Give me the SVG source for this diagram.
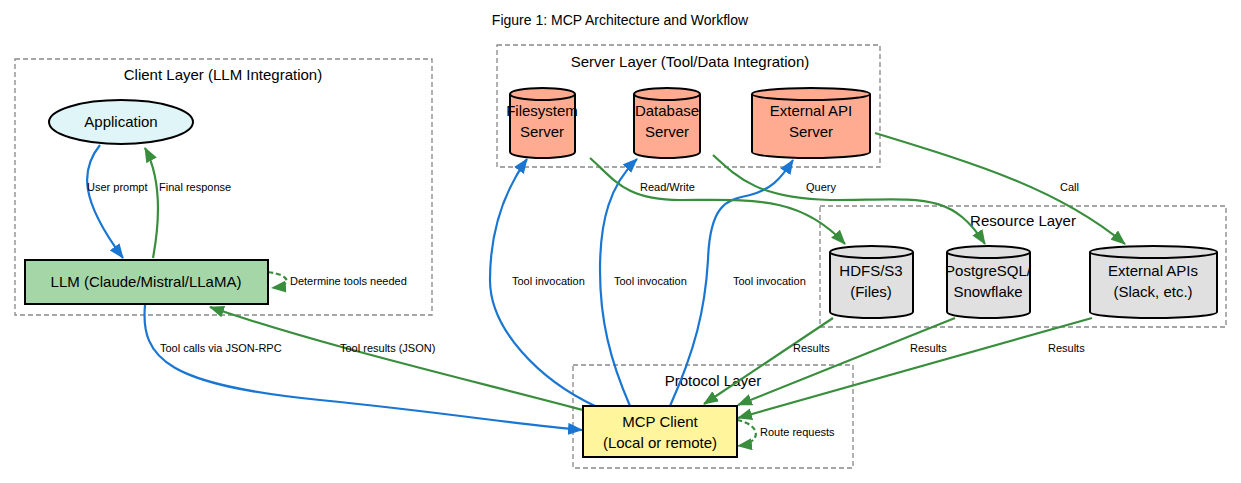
<svg xmlns="http://www.w3.org/2000/svg" width="1241" height="483" viewBox="0 0 1241 483">
<style>
text{font-family:"Liberation Sans",Arial,sans-serif;fill:#000}
.t{font-size:14px;text-anchor:middle}
.n{font-size:15px;text-anchor:middle}
.e{font-size:11px}
.cl{fill:none;stroke:#888;stroke-width:1.3;stroke-dasharray:5,3}
.b{fill:none;stroke:#1976d2;stroke-width:2.2}
.g{fill:none;stroke:#388e3c;stroke-width:2.2}
.d{stroke-dasharray:5,3}
.srv{fill:#ffab91;stroke:#000;stroke-width:2}
.res{fill:#e0e0e0;stroke:#000;stroke-width:2}
</style>
<defs>
<marker id="ab" markerUnits="userSpaceOnUse" markerWidth="16" markerHeight="12" refX="14" refY="6" orient="auto"><path d="M0,0 L15,6 L0,12 Z" fill="#1976d2"/></marker>
<marker id="ag" markerUnits="userSpaceOnUse" markerWidth="16" markerHeight="12" refX="14" refY="6" orient="auto"><path d="M0,0 L15,6 L0,12 Z" fill="#388e3c"/></marker>
</defs>
<rect width="1241" height="483" fill="#fff"/>
<text class="t" x="620" y="25">Figure 1: MCP Architecture and Workflow</text>

<g id="clusters">
<rect class="cl" x="15" y="59" width="417" height="256"/>
<text class="n" x="223" y="80">Client Layer (LLM Integration)</text>
<rect class="cl" x="497" y="45" width="383" height="122"/>
<text class="n" x="690" y="67">Server Layer (Tool/Data Integration)</text>
<rect class="cl" x="820" y="206" width="406" height="121"/>
<text class="n" x="1023" y="226">Resource Layer</text>
<rect class="cl" x="573" y="365" width="280" height="103"/>
<text class="n" x="713" y="386">Protocol Layer</text>
</g>

<g id="connectors">
<path class="b" d="M100,145 C80,170 80,200 123,258" marker-end="url(#ab)"/>
<text class="e" x="87" y="191">User prompt</text>
<path class="g" d="M153,258 C160,220 162,180 145,148" marker-end="url(#ag)"/>
<text class="e" x="159" y="191">Final response</text>
<path class="g d" d="M268,272 C292,275 292,286 272,288" marker-end="url(#ag)"/>
<text class="e" x="290" y="285">Determine tools needed</text>
<path class="b" d="M145,305 C140,360 170,385 320,400 C450,413 520,425 582,430" marker-end="url(#ab)"/>
<text class="e" x="160" y="352">Tool calls via JSON-RPC</text>
<path class="g" d="M583,410 C470,380 320,345 210,307" marker-end="url(#ag)"/>
<text class="e" x="340" y="352">Tool results (JSON)</text>
<path class="b" d="M595,406 C540,380 490,330 490,280 C490,230 505,190 527,159" marker-end="url(#ab)"/>
<text class="e" x="512" y="285">Tool invocation</text>
<path class="b" d="M630,406 C610,360 600,320 600,270 C600,220 610,185 637,159" marker-end="url(#ab)"/>
<text class="e" x="614" y="285">Tool invocation</text>
<path class="b" d="M670,406 C695,350 705,310 708,260 C710,200 730,200 750,195 C770,190 780,180 793,160" marker-end="url(#ab)"/>
<text class="e" x="733" y="285">Tool invocation</text>
<path class="g" d="M590,158 C615,180 625,200 680,200 C750,200 800,195 845,244" marker-end="url(#ag)"/>
<text class="e" x="640" y="191">Read/Write</text>
<path class="g" d="M713,155 C740,180 760,198 830,200 C920,200 950,190 985,244" marker-end="url(#ag)"/>
<text class="e" x="806" y="191">Query</text>
<path class="g" d="M875,133 C980,165 1060,190 1125,244" marker-end="url(#ag)"/>
<text class="e" x="1060" y="191">Call</text>
<path class="g" d="M833,318 L704,404" marker-end="url(#ag)"/>
<text class="e" x="793" y="352">Results</text>
<path class="g" d="M955,318 L738,405" marker-end="url(#ag)"/>
<text class="e" x="910" y="352">Results</text>
<path class="g" d="M1092,318 L738,418" marker-end="url(#ag)"/>
<text class="e" x="1048" y="352">Results</text>
<path class="g d" d="M737,420 C762,425 762,443 738,446" marker-end="url(#ag)"/>
<text class="e" x="760" y="436">Route requests</text>
</g>

<g id="application">
<ellipse cx="121" cy="122" rx="72" ry="22" fill="#dff5f7" stroke="#000" stroke-width="2"/>
<text class="n" x="121" y="127">Application</text>
</g>
<g id="llm">
<rect x="25" y="260" width="243" height="44" fill="#a5d6a7" stroke="#000" stroke-width="2"/>
<text class="n" x="146" y="287">LLM (Claude/Mistral/LLaMA)</text>
</g>
<g id="filesystem-server">
<path class="srv" d="M510,94 L510,152 A32.5,6 0 0 0 575,152 L575,94 A32.5,6 0 0 0 510,94 A32.5,6 0 0 0 575,94"/>
<text class="n" x="542" y="116">Filesystem</text><text class="n" x="542" y="137">Server</text>
</g>
<g id="database-server">
<path class="srv" d="M634,94 L634,152 A33,6 0 0 0 700,152 L700,94 A33,6 0 0 0 634,94 A33,6 0 0 0 700,94"/>
<text class="n" x="667" y="116">Database</text><text class="n" x="667" y="137">Server</text>
</g>
<g id="external-api-server">
<path class="srv" d="M752,94 L752,152 A59,6 0 0 0 870,152 L870,94 A59,6 0 0 0 752,94 A59,6 0 0 0 870,94"/>
<text class="n" x="811" y="116">External API</text><text class="n" x="811" y="137">Server</text>
</g>
<g id="hdfs">
<path class="res" d="M830,252 L830,312 A41.5,6 0 0 0 913,312 L913,252 A41.5,6 0 0 0 830,252 A41.5,6 0 0 0 913,252"/>
<text class="n" x="871" y="276">HDFS/S3</text><text class="n" x="871" y="297">(Files)</text>
</g>
<g id="postgres">
<path class="res" d="M947,252 L947,312 A41.5,6 0 0 0 1030,312 L1030,252 A41.5,6 0 0 0 947,252 A41.5,6 0 0 0 1030,252"/>
<text class="n" x="988" y="276">PostgreSQL/</text><text class="n" x="988" y="297">Snowflake</text>
</g>
<g id="external-apis">
<path class="res" d="M1090,252 L1090,312 A63.5,6 0 0 0 1217,312 L1217,252 A63.5,6 0 0 0 1090,252 A63.5,6 0 0 0 1217,252"/>
<text class="n" x="1153" y="276">External APIs</text><text class="n" x="1153" y="297">(Slack, etc.)</text>
</g>
<g id="mcp-client">
<rect x="583" y="406" width="154" height="51" fill="#fff59d" stroke="#000" stroke-width="2"/>
<text class="n" x="660" y="427">MCP Client</text><text class="n" x="660" y="448">(Local or remote)</text>
</g>
</svg>
